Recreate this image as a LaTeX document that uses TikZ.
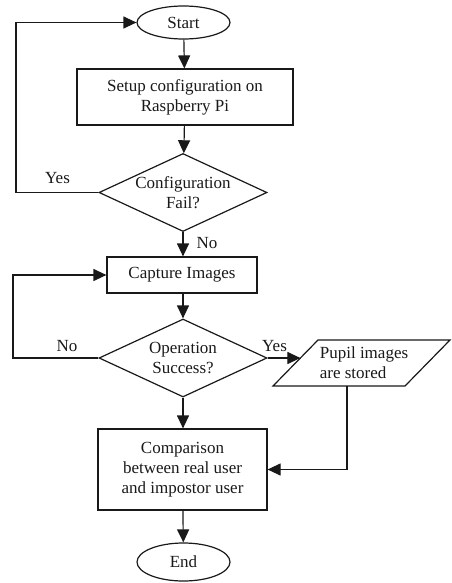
\documentclass[tikz,border=0pt]{standalone}
\usepackage{fontspec}
\setmainfont{Liberation Serif}
\usetikzlibrary{shapes.geometric,arrows.meta,calc}
\begin{document}
\begin{tikzpicture}[x=1bp,y=-1bp,
  every node/.style={font=\fontsize{17bp}{20bp}\selectfont, text=black!90},
  line/.style={line width=1.2bp, draw=black!90},
  arr/.style={line, -{Triangle[length=13bp,width=12bp]}},
  term/.style={ellipse, line, minimum width=93bp, inner sep=0pt},
  proc/.style={rectangle, line, inner sep=0pt, align=center},
  dec/.style={diamond, line, inner sep=0pt, minimum width=168bp, minimum height=78bp},
  lab/.style={inner sep=0pt}
]
\useasboundingbox (0,0) rectangle (452,583);
\node[term, minimum height=33bp] (start) at (183.5,22.5) {Start};
\node[proc, minimum width=216bp, minimum height=56bp] (b1) at (185,97) {Setup configuration on\\Raspberry Pi};
\node[dec] (d1) at (183,192.5) {};
\node[lab, align=center] (d1t) at (183,192.5) {Configuration\\Fail?};
\node[proc, minimum width=150bp, minimum height=36bp] (b2) at (182,275) {Capture Images};
\node[dec] (d2) at (183,358) {};
\node[lab, align=center] (d2t) at (183,358) {Operation\\Success?};
\coordinate (pTL) at (318,340);
\coordinate (pTR) at (450,340);
\coordinate (pBR) at (405,386);
\coordinate (pBL) at (273,386);
\draw[line] (pTL) -- (pTR) -- (pBR) -- (pBL) -- cycle;
\node[lab, align=left] (part) at (364,363) {Pupil images\\are stored};
\node[proc, minimum width=169bp, minimum height=81bp] (b3) at (182.5,469.5) {Comparison\\between real user\\and impostor user};
\node[term, minimum height=38bp] (end) at (183.5,562) {End};

\coordinate (l1) at (16,0);
\coordinate (l2) at (13,0);
\coordinate (pin) at ($(pBL)!0.6087!(pTL)$);
\coordinate (pout) at (347,386);
\coordinate (turn) at (347,469.5);

\node[lab] (yes1) at (57.5,178) {Yes};
\node[lab] (no1) at (207,243.5) {No};
\node[lab] (no2) at (67,346) {No};
\node[lab] (yes2) at (274.5,346) {Yes};

\draw[arr] (start) -- (b1);
\draw[arr] (b1) -- (d1);
\draw[arr] (d1.south) -- (d1.south |- b2.north);
\draw[arr] (b2.south -| d2.north) -- (d2.north);
\draw[arr] (d2.south) -- (d2.south |- b3.north);
\draw[arr] (b3) -- (end);
\draw[arr] (d1.west) -- (d1.west -| l1) -- (start.west -| l1) -- (start.west);
\draw[arr] (d2.west) -- (d2.west -| l2) -- (b2.west -| l2) -- (b2.west);
\draw[arr] (d2.east) -- (d2.east -| pin);
\draw[arr] (pout) -- (turn) -- (b3.east);
\end{tikzpicture}
\end{document}
